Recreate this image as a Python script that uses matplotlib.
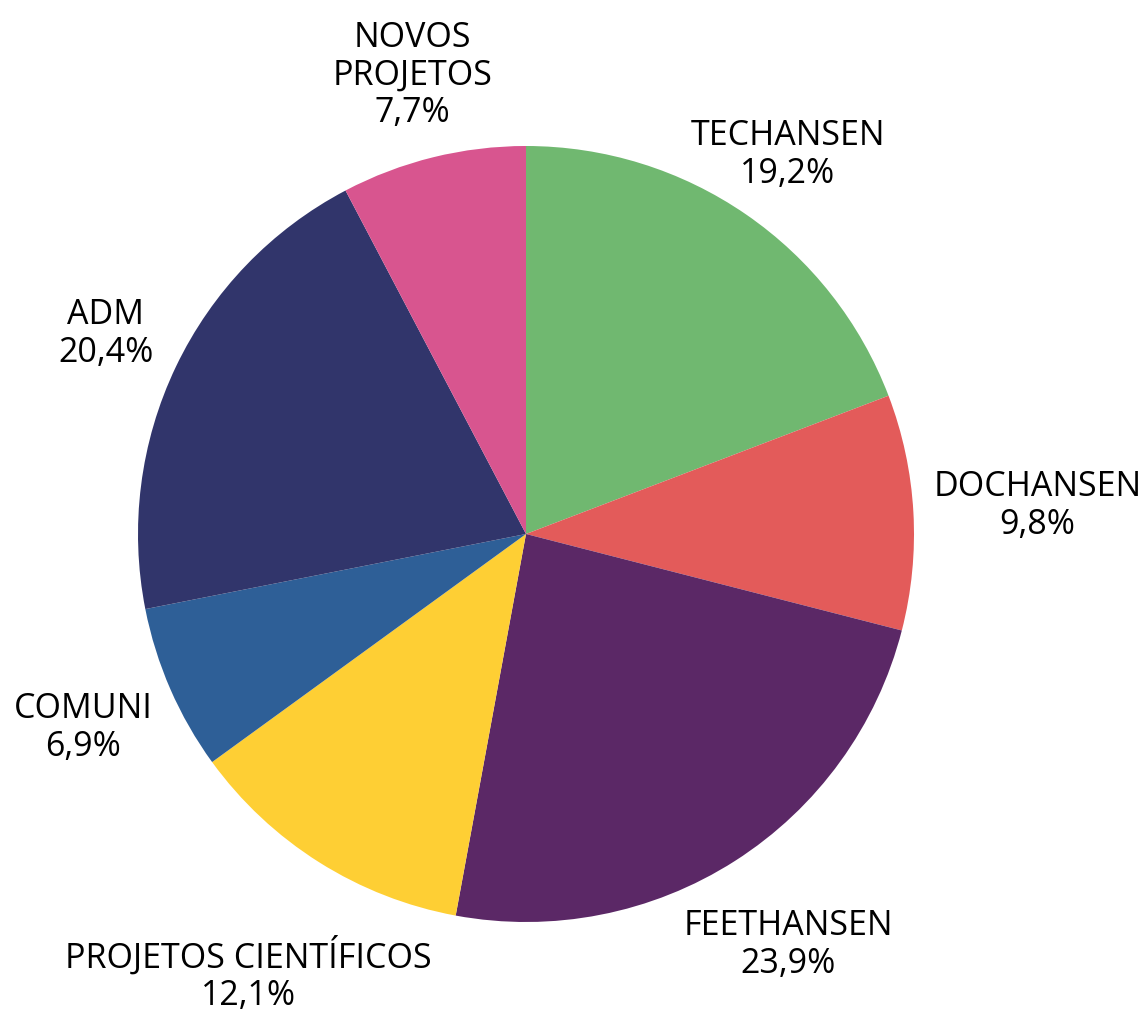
import numpy as np
import matplotlib
matplotlib.use("Agg")
import matplotlib.pyplot as plt

categories = ["TECHANSEN", "DOCHANSEN", "FEETHANSEN", "PROJETOS CIENTÍFICOS",
              "COMUNI", "ADM", "NOVOS\nPROJETOS"]
values = [19.2, 9.8, 23.9, 12.1, 6.9, 20.4, 7.7]
colors = ["#70b870", "#e35b5a", "#5b2866", "#fecf34", "#2e5f97", "#31356b", "#d8558f"]
label_radius = [1.19, 1.32, 1.255, 1.34, 1.245, 1.20, 1.22]

plt.rcParams['font.family'] = ['Open Sans', 'DejaVu Sans']

fig = plt.figure(figsize=(11.47, 10.12), dpi=100)
ax = fig.add_axes([0, 0, 1, 1])
wedges, _ = ax.pie(values, colors=colors, startangle=90, counterclock=False,
                   radius=1.0, center=(0, 0), normalize=True,
                   wedgeprops=dict(linewidth=0))
ax.set_xlim(-526 / 388, (1147 - 526) / 388)
ax.set_ylim(-(1012 - 535) / 388, 535 / 388)
ax.set_aspect('auto')
ax.axis('off')

for w, cat, v, r in zip(wedges, categories, values, label_radius):
    ang = np.deg2rad((w.theta1 + w.theta2) / 2)
    x, y = r * np.cos(ang), r * np.sin(ang)
    txt = f"{cat}\n{v:.1f}%".replace(".", ",")
    ax.text(x, y, txt, ha='center', va='center', fontsize=24.5,
            linespacing=1.15, color='#000000')

fig.savefig("out.png", dpi=100)
